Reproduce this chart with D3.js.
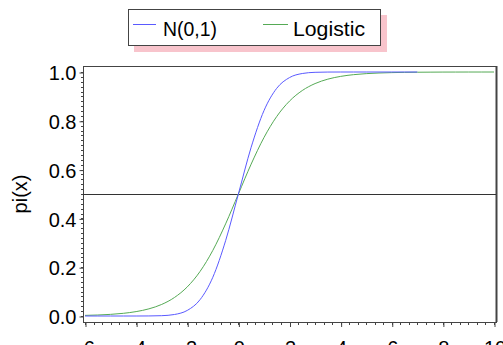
<!DOCTYPE html>
<html>
<head>
<meta charset="utf-8">
<script src="https://cdn.jsdelivr.net/npm/d3@7"></script>
<style>
  html, body { margin: 0; padding: 0; background: #fff; }
  svg { display: block; font-family: "Liberation Sans", Arial, sans-serif; }
</style>
</head>
<body>
<svg id="chart" width="503" height="345"></svg>
<script>
// Cumulative probability curves pi(x)
const normalX = [-6, -5.5, -5, -4.5, -4, -3.5, -3, -2.5, -2, -1.5, -1, -0.5, 0, 0.5, 1, 1.5, 2, 2.5, 3, 3.5, 4, 4.5, 5, 5.5, 6, 6.5, 7];
const normalY = [0, 0, 0, 0, 0, 0.0002, 0.0013, 0.0062, 0.0228, 0.0668, 0.1587, 0.3085, 0.5, 0.6915, 0.8413, 0.9332, 0.9772, 0.9938, 0.9987, 0.9998, 1, 1, 1, 1, 1, 1, 1];

const logisticX = [-6, -5.5, -5, -4.5, -4, -3.5, -3, -2.5, -2, -1.5, -1, -0.5, 0, 0.5, 1, 1.5, 2, 2.5, 3, 3.5, 4, 4.5, 5, 5.5, 6, 6.5, 7, 7.5, 8, 8.5, 9, 9.5, 10];
const logisticY = [0.0025, 0.0041, 0.0067, 0.011, 0.018, 0.0293, 0.0474, 0.0759, 0.1192, 0.1824, 0.2689, 0.3775, 0.5, 0.6225, 0.7311, 0.8176, 0.8808, 0.9241, 0.9526, 0.9707, 0.982, 0.989, 0.9933, 0.9959, 0.9975, 0.9985, 0.9991, 0.9994, 0.9997, 0.9998, 0.9999, 0.9999, 1];

const xTicks = [-6, -4, -2, 0, 2, 4, 6, 8, 10];
const yTicks = [0, 0.2, 0.4, 0.6, 0.8, 1.0];
const refLevel = [0.5];

const seriesNames = ["N(0,1)", "Logistic"];
const seriesColors = ["#5a5aff", "#55aa55"];

const svg = d3.select("#chart");

const frame = { left: 83, right: 497, top: 66, bottom: 322 };
const x = d3.scaleLinear().domain([-6, 10]).range([85, 494]);
const y = d3.scaleLinear().domain([0, 1]).range([316, 72]);

// plot frame
svg.append("rect")
  .attr("x", frame.left + 0.5).attr("y", frame.top + 0.5)
  .attr("width", frame.right - frame.left - 1).attr("height", frame.bottom - frame.top)
  .attr("fill", "none").attr("stroke", "#444").attr("stroke-width", 1);
svg.append("line")
  .attr("x1", frame.right - 0.5).attr("x2", frame.right - 0.5)
  .attr("y1", frame.top).attr("y2", frame.bottom)
  .attr("stroke", "#444").attr("stroke-width", 2);

// y axis
const yMinor = d3.range(0, 1.0001, 0.02);
svg.append("g").selectAll("line").data(yMinor).join("line")
  .attr("x1", frame.left - 2).attr("x2", frame.left)
  .attr("y1", d => Math.round(y(d)) + 0.5).attr("y2", d => Math.round(y(d)) + 0.5)
  .attr("stroke", "#444").attr("stroke-width", 1);
const yAxis = d3.axisLeft(y).tickValues(yTicks).tickFormat(d3.format(".1f")).tickSize(4).tickPadding(3);
const gy = svg.append("g").attr("transform", `translate(${frame.left + 0.5},0.5)`).call(yAxis);
gy.select(".domain").remove();
gy.selectAll(".tick line").attr("stroke", "#444");
gy.selectAll(".tick text").attr("font-size", 20).attr("fill", "#000")
  .attr("font-family", "Liberation Sans, Arial, sans-serif").attr("dy", "0.36em");

// x axis
const xMinor = d3.range(-6, 10.001, 1 / 3);
svg.append("g").selectAll("line").data(xMinor).join("line")
  .attr("x1", d => Math.round(x(d)) + 0.5).attr("x2", d => Math.round(x(d)) + 0.5)
  .attr("y1", frame.bottom).attr("y2", frame.bottom + 3)
  .attr("stroke", "#444").attr("stroke-width", 1);
const xAxis = d3.axisBottom(x).tickValues(xTicks).tickFormat(d => d < 0 ? "-" + Math.abs(d) : d).tickSize(5).tickPadding(14);
const gx = svg.append("g").attr("transform", `translate(0.5,${frame.bottom})`).call(xAxis);
gx.select(".domain").remove();
gx.selectAll(".tick line").attr("stroke", "#444");
gx.selectAll(".tick text").attr("font-size", 20).attr("fill", "#000")
  .attr("font-family", "Liberation Sans, Arial, sans-serif");

// y axis title
svg.append("text")
  .attr("transform", `translate(27,194) rotate(-90)`)
  .attr("text-anchor", "middle")
  .attr("font-size", 20).attr("fill", "#000")
  .text("pi(x)");

// reference line at 0.5
svg.append("g").selectAll("line").data(refLevel).join("line")
  .attr("x1", frame.left).attr("x2", frame.right - 1)
  .attr("y1", d => Math.round(y(d)) + 0.5).attr("y2", d => Math.round(y(d)) + 0.5)
  .attr("stroke", "#333").attr("stroke-width", 1);

// curves
const line = d3.line().x(d => x(d[0])).y(d => y(d[1])).curve(d3.curveMonotoneX);
const series = [
  d3.zip(normalX, normalY),
  d3.zip(logisticX, logisticY)
];
// draw logistic first, normal on top
[1, 0].forEach(i => {
  svg.append("path")
    .datum(series[i])
    .attr("d", line)
    .attr("fill", "none")
    .attr("stroke", seriesColors[i])
    .attr("stroke-width", 1);
});

// legend
const lg = svg.append("g");
lg.append("rect").attr("x", 134).attr("y", 15).attr("width", 253).attr("height", 37).attr("fill", "#f8c4cc");
lg.append("rect").attr("x", 128.5).attr("y", 9.5).attr("width", 252).attr("height", 36)
  .attr("fill", "#fff").attr("stroke", "#444").attr("stroke-width", 1);
const legendItems = [
  { name: seriesNames[0], color: seriesColors[0], x0: 133, x1: 156, tx: 163, w: 54 },
  { name: seriesNames[1], color: seriesColors[1], x0: 263, x1: 288, tx: 293, w: 72 }
];
legendItems.forEach(it => {
  lg.append("line").attr("x1", it.x0).attr("x2", it.x1).attr("y1", 24.5).attr("y2", 24.5)
    .attr("stroke", it.color).attr("stroke-width", 1);
  lg.append("text").attr("x", it.tx).attr("y", 35.5)
    .attr("font-size", 20).attr("fill", "#000")
    .attr("textLength", it.w).attr("lengthAdjust", "spacingAndGlyphs")
    .text(it.name);
});
</script>
</body>
</html>
